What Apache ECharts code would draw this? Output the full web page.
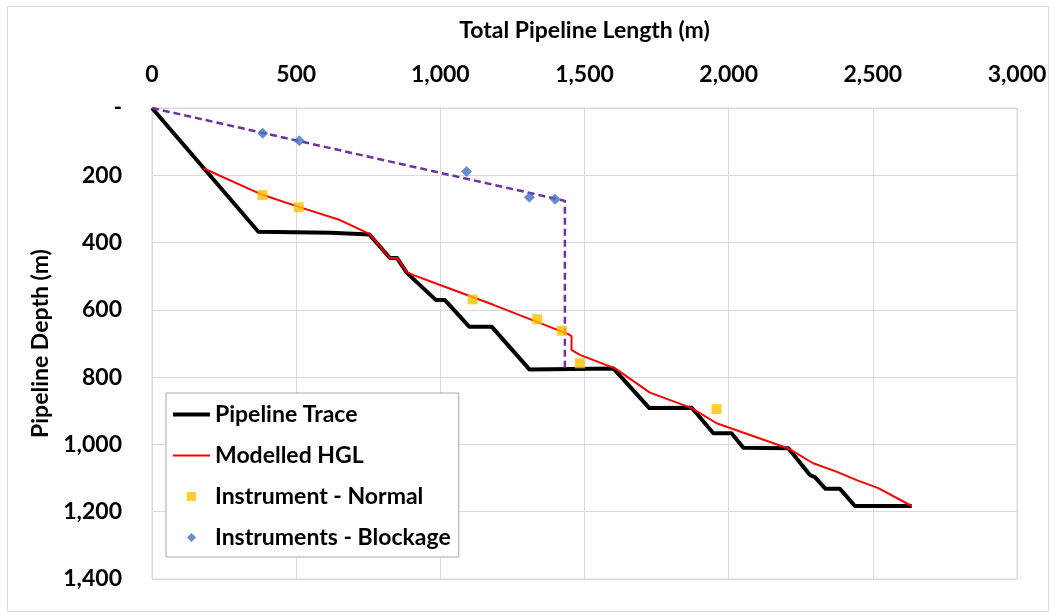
<!DOCTYPE html>
<html>
<head>
<meta charset="utf-8">
<script src="https://cdn.jsdelivr.net/npm/echarts@6/dist/echarts.min.js"></script>
<style>
  html, body { margin: 0; padding: 0; background: #fff; }
  #chart { width: 1055px; height: 612px; }
</style>
</head>
<body>
<div id="chart"></div>
<script>
// Pipeline profile: length along the line (m) vs depth (m)
const traceLength = [0, 369, 620, 754, 825, 850, 884, 985, 1016, 1100, 1178, 1309, 1600, 1725, 1872, 1947, 2010, 2051, 2207, 2282, 2299, 2336, 2386, 2438, 2635];
const traceDepth  = [0, 368, 371, 376, 446, 446, 490, 571, 571, 650, 650, 777, 774, 892, 891, 967, 967, 1010, 1011, 1091, 1097, 1132, 1132, 1183, 1183];

// Modelled hydraulic grade line
const hglLength = [178, 383, 509, 652, 754, 825, 850, 884, 905, 999, 1184, 1444, 1455, 1455, 1484, 1606, 1727, 1872, 1958, 2210, 2293, 2374, 2444, 2519, 2635];
const hglDepth  = [179, 258, 294, 333, 374, 446, 446, 488, 496, 526, 585, 672, 678, 719, 734, 774, 846, 892, 937, 1013, 1056, 1081, 1106, 1130, 1183];

// Instrument readings, normal operation
const normalLength = [383, 509, 1112, 1336, 1421, 1484, 1958];
const normalDepth  = [259, 295, 569, 628, 662, 759, 895];

// Instrument readings during the blockage
const blockLength = [384, 511, 1091, 1309, 1398];
const blockDepth  = [75, 97, 189, 265, 271];

// Grade line upstream of the blockage
const blockLineLength = [0, 1432, 1432];
const blockLineDepth  = [0, 276, 774];

// Axis ranges and ticks
const lengthTicks = [0, 500, 1000, 1500, 2000, 2500, 3000];
const depthTicks  = [0, 200, 400, 600, 800, 1000, 1200, 1400];

const FONT = 'Lato';
const pairs = (xs, ys) => xs.map((x, i) => [x, ys[i]]);
const comma = v => Math.round(v).toString().replace(/\B(?=(\d{3})+(?!\d))/g, ',');
const grid = '#d9d9d9';
const labelStyle = { fontFamily: FONT, fontWeight: 'bold', fontSize: 23, color: '#000' };

const chart = echarts.init(document.getElementById('chart'), null, { renderer: 'canvas' });
chart.setOption({
  animation: false,
  backgroundColor: '#fff',
  graphic: [{
    type: 'rect', silent: true, z: -10,
    shape: { x: 7.5, y: 6.5, width: 1041, height: 605 },
    style: { fill: 'none', stroke: grid, lineWidth: 1 }
  }],
  grid: { left: 152, top: 108, width: 865, height: 471, show: true, borderColor: grid, borderWidth: 1 },
  xAxis: {
    type: 'value', position: 'top',
    min: lengthTicks[0], max: lengthTicks[lengthTicks.length - 1], interval: lengthTicks[1] - lengthTicks[0],
    name: 'Total Pipeline Length (m)', nameLocation: 'middle', nameGap: 66,
    nameTextStyle: labelStyle,
    axisLine: { show: false }, axisTick: { show: false },
    axisLabel: Object.assign({ margin: 22, formatter: comma }, labelStyle),
    splitLine: { show: true, lineStyle: { color: grid, width: 1 } }
  },
  yAxis: {
    type: 'value', inverse: true,
    min: depthTicks[0], max: depthTicks[depthTicks.length - 1], interval: depthTicks[1] - depthTicks[0],
    name: 'Pipeline Depth (m)', nameLocation: 'middle', nameGap: 100,
    nameTextStyle: labelStyle,
    axisLine: { show: false }, axisTick: { show: false },
    axisLabel: Object.assign({ margin: 30, formatter: v => v === 0 ? '-' : comma(v) }, labelStyle),
    splitLine: { show: true, lineStyle: { color: grid, width: 1 } }
  },
  legend: {
    left: 166, top: 393, orient: 'vertical',
    padding: [9, 8, 7, 7], itemGap: 16, itemWidth: 37, itemHeight: 9,
    borderColor: '#a6a6a6', borderWidth: 1, backgroundColor: '#fff',
    textStyle: Object.assign({ lineHeight: 25 }, labelStyle),
    data: [
      { name: 'Pipeline Trace', icon: 'path://M0,0H37V4H0Z' },
      { name: 'Modelled HGL', icon: 'path://M0,0H37V2H0Z' },
      { name: 'Instrument - Normal', icon: 'path://M0,0H10V10H0Z' },
      { name: 'Instruments - Blockage', icon: 'path://M5,0L10,5L5,10L0,5Z' }
    ]
  },
  series: [
    {
      name: 'Pipeline Trace', type: 'line', z: 2,
      data: pairs(traceLength, traceDepth),
      symbol: 'none', color: '#000',
      lineStyle: { color: '#000', width: 4, join: 'round' }
    },
    {
      name: 'Modelled HGL', type: 'line', z: 3,
      data: pairs(hglLength, hglDepth),
      symbol: 'none', color: '#ff0000',
      lineStyle: { color: '#ff0000', width: 2 }
    },
    {
      name: 'Blockage HGL', type: 'line', z: 4,
      data: pairs(blockLineLength, blockLineDepth),
      symbol: 'none', color: '#7030a0',
      lineStyle: { color: '#7030a0', width: 2.5, type: [7, 4] }
    },
    {
      name: 'Instrument - Normal', type: 'scatter', z: 5,
      data: pairs(normalLength, normalDepth),
      symbol: 'rect', symbolSize: 10,
      itemStyle: { color: '#ffc000' }
    },
    {
      name: 'Instruments - Blockage', type: 'scatter', z: 5,
      data: pairs(blockLength, blockDepth),
      symbol: 'diamond', symbolSize: 11,
      itemStyle: { color: '#4472c4' }
    }
  ]
});
</script>
</body>
</html>
